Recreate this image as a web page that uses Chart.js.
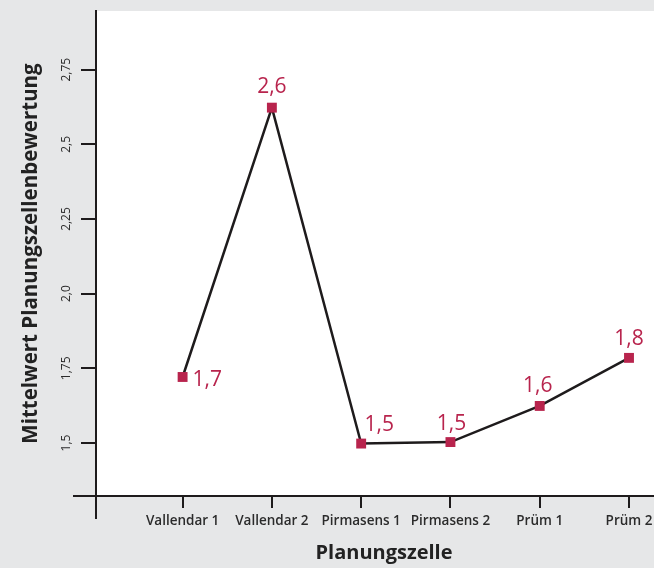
<!DOCTYPE html>
<html>
<head>
<meta charset="utf-8">
<script src="https://cdn.jsdelivr.net/npm/chart.js@4/dist/chart.umd.min.js"></script>
<style>
  html, body { margin: 0; padding: 0; background: #e6e7e8; }
  #wrap { width: 654px; height: 568px; position: relative; }
</style>
</head>
<body>
<div id="wrap"><canvas id="c" width="654" height="568"></canvas></div>
<script>
// ---- data ----
const categories = ['Vallendar 1', 'Vallendar 2', 'Pirmasens 1', 'Pirmasens 2', 'Prüm 1', 'Prüm 2'];
const meanValues = [1.721, 2.623, 1.498, 1.503, 1.624, 1.785];
const yTickValues = [1.5, 1.75, 2.0, 2.25, 2.5, 2.75];
const yTickLabels = ['1,5', '1,75', '2,0', '2,25', '2,5', '2,75'];
const xTitle = 'Planungszelle';
const yTitle = 'Mittelwert Planungszellenbewertung';

// ---- styling ----
const BG = '#e6e7e8';
const INK = '#1e1b1c';
const RED = '#b8244d';
const FONT = "'Open Sans', 'Noto Sans', sans-serif";

const points = meanValues.map((v, i) => ({ x: i, y: v }));

const bgPlugin = {
  id: 'bg',
  beforeDraw(chart) {
    const { ctx, chartArea: a } = chart;
    ctx.save();
    ctx.fillStyle = BG;
    ctx.fillRect(0, 0, chart.width, chart.height);
    ctx.fillStyle = '#ffffff';
    ctx.fillRect(a.left, a.top, a.right - a.left, a.bottom - a.top);
    ctx.restore();
  },
  afterDraw(chart, args, opts) {
    const { ctx, chartArea: a } = chart;
    const ext = opts.extension;
    ctx.save();
    // axis line extensions past the origin
    ctx.strokeStyle = INK;
    ctx.lineWidth = 2;
    ctx.beginPath();
    ctx.moveTo(a.left - ext, a.bottom);
    ctx.lineTo(a.left, a.bottom);
    ctx.moveTo(a.left, a.bottom);
    ctx.lineTo(a.left, a.bottom + ext);
    ctx.stroke();
    // x axis title
    ctx.fillStyle = '#222';
    ctx.font = opts.xTitleFont;
    ctx.textAlign = 'center';
    ctx.textBaseline = 'middle';
    ctx.fillText(xTitle, (a.left + a.right) / 2 + opts.xTitleDx, chart.height - opts.xTitleFromBottom);
    ctx.restore();
  }
};

const valueLabels = {
  id: 'valueLabels',
  afterDatasetsDraw(chart, args, opts) {
    const { ctx } = chart;
    const meta = chart.getDatasetMeta(0);
    ctx.save();
    ctx.fillStyle = RED;
    ctx.font = opts.font;
    ctx.textBaseline = 'alphabetic';
    meta.data.forEach((pt, i) => {
      const p = opts.placement[i];
      const txt = meanValues[i].toFixed(1).replace('.', ',');
      ctx.textAlign = p.align || 'center';
      ctx.fillText(txt, pt.x + p.dx, pt.y + p.dy);
    });
    ctx.restore();
  }
};

new Chart(document.getElementById('c'), {
  type: 'line',
  data: {
    datasets: [{
      data: points,
      borderColor: INK,
      borderWidth: 2.5,
      tension: 0,
      pointStyle: 'rect',
      pointRadius: 7,
      pointHoverRadius: 7,
      pointBackgroundColor: RED,
      pointBorderWidth: 0,
      clip: false
    }]
  },
  options: {
    responsive: false,
    animation: false,
    events: [],
    layout: { autoPadding: false, padding: { top: 11, right: 0, bottom: 0, left: 0 } },
    plugins: {
      legend: { display: false },
      tooltip: { enabled: false },
      bg: { extension: 23, xTitleFont: "700 20px " + FONT, xTitleDx: 9, xTitleFromBottom: 15 },
      valueLabels: {
        font: "500 21px " + FONT,
        placement: [
          { dx: 10, dy: 9, align: 'left' },
          { dx: 0, dy: -15 },
          { dx: 18, dy: -13 },
          { dx: 1, dy: -12 },
          { dx: -2, dy: -14 },
          { dx: 0, dy: -13 }
        ]
      }
    },
    scales: {
      x: {
        type: 'linear',
        min: -0.97,
        max: 5.28,
        afterBuildTicks(scale) { scale.ticks = categories.map((c, i) => ({ value: i })); },
        afterFit(scale) { scale.height = 72; scale.paddingLeft = 0; scale.paddingRight = 0; },
        ticks: {
          autoSkip: false,
          maxRotation: 0,
          minRotation: 0,
          padding: 5,
          color: '#2b2b2b',
          font: { family: FONT, size: 13.5, weight: '600' },
          callback: (v) => categories[v]
        },
        grid: { drawOnChartArea: false, drawTicks: true, tickLength: 12, color: INK, lineWidth: 2 },
        border: { display: true, color: INK, width: 2 },
        title: { display: false, text: xTitle }
      },
      y: {
        type: 'linear',
        min: 1.3224,
        max: 2.9467,
        afterBuildTicks(scale) { scale.ticks = yTickValues.map(v => ({ value: v })); },
        afterFit(scale) { scale.width = 96; },
        ticks: {
          minRotation: 90,
          maxRotation: 90,
          crossAlign: 'center',
          padding: 3,
          color: '#2b2b2b',
          font: { family: FONT, size: 12, weight: '400' },
          callback: (v) => yTickLabels[yTickValues.indexOf(v)]
        },
        grid: { drawOnChartArea: false, drawTicks: true, tickLength: 15, color: INK, lineWidth: 2 },
        border: { display: true, color: INK, width: 2 },
        title: {
          display: true,
          text: yTitle,
          color: '#222',
          font: { family: FONT, size: 20.5, weight: '700' },
          padding: { top: 19, bottom: 0 }
        }
      }
    }
  },
  plugins: [bgPlugin, valueLabels]
});
</script>
</body>
</html>
